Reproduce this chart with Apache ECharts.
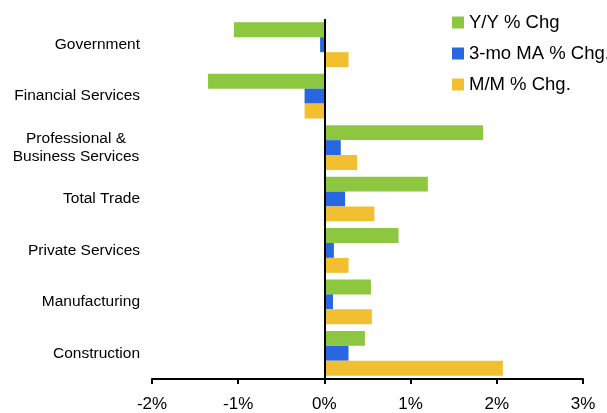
<!DOCTYPE html>
<html>
<head>
<meta charset="utf-8">
<script src="https://cdn.jsdelivr.net/npm/echarts@6/dist/echarts.min.js"></script>
<style>
  html, body { margin: 0; padding: 0; background: #fff; }
  #chart { width: 607px; height: 413px; }
</style>
</head>
<body>
<div id="chart"></div>
<script>
const categories = ['Government', 'Financial Services', 'Professional &\nBusiness Services', 'Total Trade', 'Private Services', 'Manufacturing', 'Construction']
const yoy = [-1.05, -1.35, 1.84, 1.20, 0.86, 0.54, 0.47]
const ma3 = [-0.05, -0.23, 0.19, 0.24, 0.11, 0.10, 0.28]
const mom = [0.28, -0.23, 0.38, 0.58, 0.28, 0.55, 2.07]
const xTicks = [-2, -1, 0, 1, 2, 3]

const font = 'Liberation Sans, Arial, sans-serif'
const chart = echarts.init(document.getElementById('chart'))

chart.setOption({
  animation: false,
  textStyle: { fontFamily: font, color: '#000' },
  grid: { left: 152, right: 24, top: 19, bottom: 33 },
  legend: {
    orient: 'vertical',
    left: 447,
    top: 7,
    itemWidth: 12,
    itemHeight: 12,
    itemGap: 10,
    icon: 'rect',
    textStyle: { fontSize: 18.5, fontFamily: font, color: '#000', lineHeight: 21 },
    data: ['Y/Y % Chg', '3-mo MA % Chg.', 'M/M % Chg.']
  },
  xAxis: {
    type: 'value',
    min: xTicks[0],
    max: xTicks[xTicks.length - 1],
    interval: 1,
    splitLine: { show: false },
    axisLine: { show: true, lineStyle: { color: '#000', width: 2 } },
    axisTick: { show: true, length: 5, lineStyle: { color: '#000', width: 2 } },
    axisLabel: { fontSize: 17, color: '#000', margin: 17, formatter: v => v + '%' }
  },
  yAxis: {
    type: 'category',
    inverse: true,
    data: categories,
    axisLine: { show: false, onZero: false },
    axisTick: { show: false },
    axisLabel: {
      fontSize: 15.5,
      color: '#000',
      margin: 12,
      lineHeight: 18,
      formatter: v => v.includes('\n') ? v.split('\n').map(s => '{c|' + s + '}').join('\n') : v,
      rich: { c: { width: 128, align: 'center', fontSize: 15.5, lineHeight: 18, color: '#000' } }
    }
  },
  series: [
    {
      name: 'Y/Y % Chg', type: 'bar', data: yoy, barGap: '0%', barCategoryGap: '13%',
      itemStyle: { color: '#8DC63F' },
      markLine: {
        silent: true, symbol: 'none', label: { show: false },
        lineStyle: { color: '#000', width: 2, type: 'solid' },
        data: [{ xAxis: 0 }]
      }
    },
    { name: '3-mo MA % Chg.', type: 'bar', data: ma3, barGap: '0%', barCategoryGap: '13%', itemStyle: { color: '#2967E1' } },
    { name: 'M/M % Chg.', type: 'bar', data: mom, barGap: '0%', barCategoryGap: '13%', itemStyle: { color: '#F2BF30' } }
  ]
})
</script>
</body>
</html>
